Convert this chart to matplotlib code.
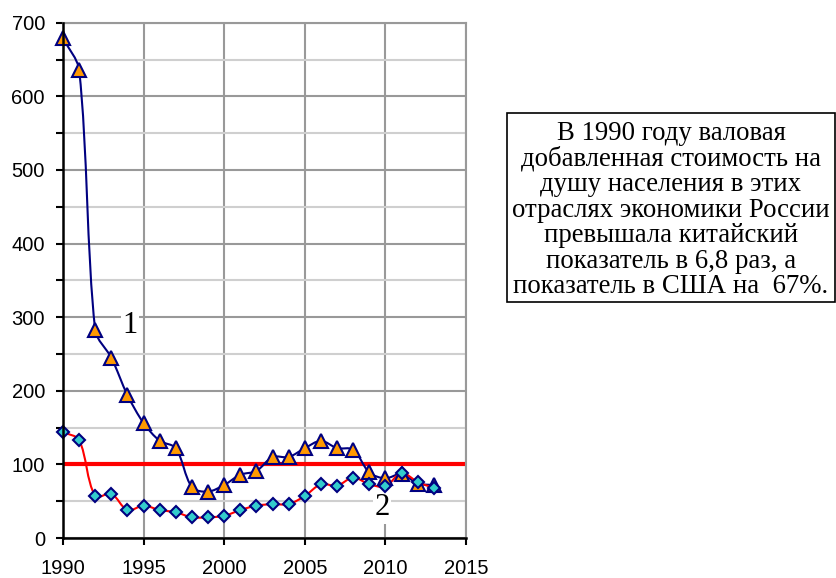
import matplotlib
matplotlib.use("Agg")
import matplotlib.pyplot as plt
import numpy as np
from matplotlib.path import Path
from matplotlib.patches import PathPatch, Rectangle
from matplotlib.ticker import MultipleLocator

years = list(range(1990, 2014))
series1 = [679, 636, 282, 245, 194, 156, 132, 122, 69, 63, 72, 86, 91, 110, 110, 122, 132, 122, 120, 89, 81, 87, 74, 72]
series2 = [144, 133, 57, 60, 38, 44, 38, 35, 28, 28, 30, 38, 44, 46, 46, 57, 73, 71, 82, 73, 70, 88, 76, 68]
x_ticks = [1990, 1995, 2000, 2005, 2010, 2015]
y_ticks = [0, 100, 200, 300, 400, 500, 600, 700]
ref_level = 100
label1 = "1"
label2 = "2"
note = ("В 1990 году валовая\nдобавленная стоимость на\nдушу населения в этих\n"
        "отраслях экономики России\nпревышала китайский\nпоказатель в 6,8 раз, а\n"
        "показатель в США на  67%.")

W, H = 837, 578
fig = plt.figure(figsize=(W / 100, H / 100), dpi=100)
ax = fig.add_axes([63 / W, 1 - 538 / H, (466 - 63) / W, (538 - 22.7) / H])

ax.set_xlim(1990, 2015)
ax.set_ylim(0, 700)


def smooth_path(xs, ys, k=0.3):
    # smoothing computed in screen space, then mapped back to data space
    pts = ax.transData.transform(np.column_stack([xs, ys]).astype(float))
    n = len(pts)
    dirs = []
    for i in range(n):
        a = pts[i - 1] if i > 0 else pts[i]
        b = pts[i + 1] if i + 1 < n else pts[i]
        d = b - a
        nd = np.hypot(*d)
        dirs.append(d / nd if nd > 0 else d)
    verts = [pts[0]]
    codes = [Path.MOVETO]
    for i in range(n - 1):
        p1, p2 = pts[i], pts[i + 1]
        L = np.hypot(*(p2 - p1))
        c1 = p1 + dirs[i] * L * k
        c2 = p2 - dirs[i + 1] * L * k
        verts += [c1, c2, p2]
        codes += [Path.CURVE4] * 3
    verts = ax.transData.inverted().transform(np.array(verts))
    return Path(verts, codes)


ax.xaxis.set_major_locator(MultipleLocator(5))
ax.yaxis.set_major_locator(MultipleLocator(100))
ax.yaxis.set_minor_locator(MultipleLocator(50))
ax.set_xticks(x_ticks)
ax.set_yticks(y_ticks)

ax.grid(True, which="major", axis="both", color="#999999", linewidth=1.5, zorder=0)
ax.grid(True, which="minor", axis="y", color="#cfcfcf", linewidth=1.5, zorder=0)
ax.set_axisbelow(True)

for s in ["top", "right"]:
    ax.spines[s].set_color("#999999")
    ax.spines[s].set_linewidth(1.5)
for s in ["left", "bottom"]:
    ax.spines[s].set_color("black")
    ax.spines[s].set_linewidth(1.8)
    ax.spines[s].set_zorder(6)

ax.tick_params(axis="both", which="both", direction="out", length=5, width=1.5, color="black")
ax.tick_params(axis="x", pad=10)
ax.tick_params(axis="y", pad=8)
for lab in ax.get_xticklabels() + ax.get_yticklabels():
    lab.set_fontfamily("Liberation Sans")
    lab.set_fontsize(14.5)

ax.axhline(ref_level, color="#ff0000", linewidth=3, zorder=2)

ax.add_patch(PathPatch(smooth_path(years, series1), facecolor="none", edgecolor="#000080",
                       linewidth=1.5, zorder=3))
ax.plot(years, series1, linestyle="none", marker="^", markersize=9.5, markerfacecolor="#ff9900",
        markeredgecolor="#000080", markeredgewidth=1.5, zorder=4, clip_on=False)
ax.add_patch(PathPatch(smooth_path(years, series2), facecolor="none", edgecolor="#ff0000",
                       linewidth=1.5, zorder=3.5))
ax.plot(years, series2, linestyle="none", marker="D", markersize=6.5, markerfacecolor="#33cccc",
        markeredgecolor="#000080", markeredgewidth=1.5, zorder=5, clip_on=False)

ax.text(1994.15, 288, label1, fontfamily="Liberation Serif", fontsize=22, ha="center", va="center",
        zorder=2.5, bbox=dict(facecolor="white", edgecolor="none", pad=1))
ax.text(2009.8, 41, label2, fontfamily="Liberation Serif", fontsize=22, ha="center", va="center",
        zorder=2.5, bbox=dict(facecolor="white", edgecolor="none", pad=1))

fig.patches.append(Rectangle((507 / W, 1 - 302 / H), (835 - 507) / W, (302 - 113) / H,
                             transform=fig.transFigure, facecolor="white", edgecolor="black",
                             linewidth=1.2))
fig.text(671 / W, 1 - 210 / H, note, fontfamily="Liberation Serif", fontsize=19.3,
         ha="center", va="center", linespacing=1.03)

fig.savefig("out.png", dpi=100)
